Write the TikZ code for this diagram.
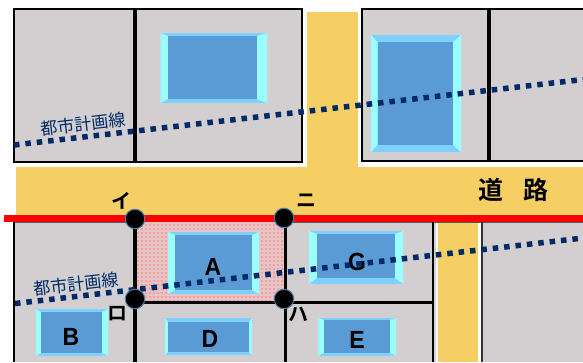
\documentclass[tikz,border=0pt]{standalone}
\usepackage{fontspec}
\setmainfont{Liberation Sans}
\newfontfamily\jpfont{Noto Sans CJK JP}
\newfontfamily\jpbold{Noto Sans CJK JP Bold}
\definecolor{lotgray}{HTML}{D3CFD0}
\definecolor{roadyellow}{HTML}{F5CF63}
\definecolor{bevelblue}{HTML}{5B9BD5}
\definecolor{beveltop}{HTML}{7DD0FF}
\definecolor{bevelside}{HTML}{99FFFF}
\definecolor{planblue}{HTML}{002A66}
\definecolor{sitebase}{HTML}{E6C4C6}
\definecolor{sitedot}{HTML}{F2A0A5}
\definecolor{dotedge}{HTML}{4A7CA8}
\tikzset{
  lot/.style={fill=lotgray,draw=black,line width=2pt},
  divider/.style={draw=black,line width=3.6pt},
  thinline/.style={draw=black,line width=3pt},
  planline/.style={draw=planblue,line width=5.5pt,dash pattern=on 5.5pt off 5.95pt},
  planlabel/.style={text=planblue,font=\jpfont\fontsize{17}{17}\selectfont,inner sep=0pt},
  boundary/.style={draw=red,line width=7pt},
  cornerdot/.style={circle,fill=black,draw=dotedge,line width=1pt,minimum size=19.5pt,inner sep=0pt},
  cornerlabel/.style={font=\jpbold\fontsize{20}{20}\selectfont,inner sep=0pt,text=black},
  buildlabel/.style={font=\bfseries\fontsize{23}{23}\selectfont,inner sep=0pt,text=black,yscale=1.08},
  roadlabel/.style={font=\jpbold\fontsize{25}{25}\selectfont,inner sep=0pt,text=black},
}
% outer x1 y1 x2 y2, inner x1 y1 x2 y2
\newcommand{\bevelbox}[8]{%
  \fill[beveltop] (#1,#2) rectangle (#3,#4);
  \fill[bevelside] (#1,#2) -- (#5,#6) -- (#5,#8) -- (#1,#4) -- cycle;
  \fill[bevelside] (#3,#2) -- (#7,#6) -- (#7,#8) -- (#3,#4) -- cycle;
  \fill[bevelblue] (#5,#6) rectangle (#7,#8);
}
\begin{document}
\begin{tikzpicture}[x=1pt,y=-1pt]
\useasboundingbox (0,0) rectangle (583,362);
\fill[white] (0,0) rectangle (583,362);
% roads
\fill[roadyellow] (307,12) rectangle (358,170);
\fill[roadyellow] (16,167) rectangle (583,218);
% upper lots
\draw[lot] (14,9) rectangle (302,162);
\draw[divider] (135,9) -- (135,162);
\fill[lotgray] (362,9) rectangle (583,161);
\draw[black,line width=2pt] (583,9) -- (362,9) -- (362,161) -- (583,161);
\draw[divider] (489,9) -- (489,161);
% lower lots
\fill[lotgray] (14,222) rectangle (583,362);
\fill[white] (436,222) rectangle (481,362);
\fill[roadyellow] (438,222) rectangle (478,362);
\draw[gray!70!black,line width=1pt] (14,222) -- (583,222);
\draw[black,line width=2pt] (14,222) -- (14,362);
\draw[black,line width=2pt] (433,222) -- (433,362);
\draw[black!80,line width=1.5pt] (482,222) -- (482,362);
% site A
\fill[sitebase] (135,222) rectangle (285,302);
\foreach \px in {137,141,...,284} \foreach \py in {224,228,...,300}
  \fill[sitedot] (\px,\py) rectangle ++(2,2);
\draw[divider] (135,220) -- (135,362);
\draw[thinline] (285,220) -- (285,362);
\draw[thinline] (135,302) -- (433,302);
% buildings
\bevelbox{160.5}{33}{267}{103}{168}{36}{257}{99}
\bevelbox{371}{35}{461}{152}{377.5}{42}{453}{145}
\bevelbox{168}{232}{259}{294}{175}{235}{252}{290}
\bevelbox{36}{309}{108}{356}{41}{312}{102}{353}
\bevelbox{165}{318}{252}{355}{168}{322}{249}{352}
\bevelbox{309}{231}{403}{284}{317}{234}{395}{278}
\bevelbox{318}{318}{396}{356}{324}{320}{390}{353}
% building labels
\node[buildlabel] (labelA) at (213,267) {A};
\node[buildlabel] (labelB) at (71,337) {B};
\node[buildlabel] (labelD) at (210,339) {D};
\node[buildlabel] (labelG) at (357,262) {G};
\node[buildlabel] (labelE) at (357,340) {E};
% boundary
\coordinate (redW) at (4,218);
\coordinate (redE) at (583,218);
\draw[boundary] (redW) -- (redE);
% planned lines
\coordinate (planAW) at (14,145);
\coordinate (planAE) at (583,79.5);
\coordinate (planBW) at (15,303.5);
\coordinate (planBE) at (583,238);
\draw[planline] (planAW) -- (planAE);
\draw[planline] (planBW) -- (planBE);
\node[planlabel,rotate=6.5] (planTextA) at (83,124) {都市計画線};
\node[planlabel,rotate=6.5] (planTextB) at (76,284) {都市計画線};
% corners
\node[cornerdot] (i) at (135,219) {};
\node[cornerdot] (ni) at (284,218) {};
\node[cornerdot] (ro) at (135,299) {};
\node[cornerdot] (ha) at (284,299) {};
\node[cornerlabel] (labelI) at (121,201) {イ};
\node[cornerlabel] (labelNi) at (306,201) {ニ};
\node[cornerlabel] (labelRo) at (117,314) {ロ};
\node[cornerlabel] (labelHa) at (298,314) {ハ};
\node[roadlabel] (road1) at (491,190) {道};
\node[roadlabel] (road2) at (536,190) {路};
\end{tikzpicture}
\end{document}
